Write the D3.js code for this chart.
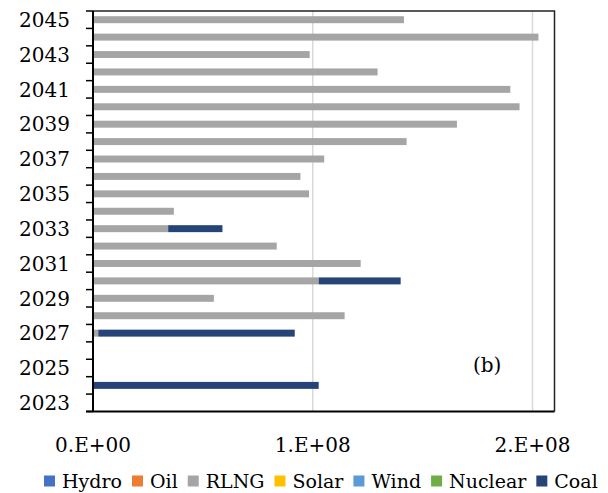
<!DOCTYPE html>
<html>
<head>
<meta charset="utf-8">
<title>generation by fuel</title>
<style>
  body { margin: 0; background: #fff; }
  svg text { font-family: "DejaVu Serif", serif; fill: #000; }
</style>
</head>
<body>
<script src="https://cdn.jsdelivr.net/npm/d3@7/dist/d3.min.js"></script>
<script>
var width = 608, height = 493;

// data
var years = d3.range(2023, 2046);
var seriesNames = ["Hydro", "Oil", "RLNG", "Solar", "Wind", "Nuclear", "Coal"];
var colors = ["#4472C4", "#ED7D31", "#A5A5A5", "#FFC000", "#5B9BD5", "#70AD47", "#264478"];
var hydro   = [0,0,0,0,0,0,0,0,0,0,0,0,0,0,0,0,0,0,0,0,0,0,0];
var oil     = [0,0,0,0,0,0,0,0,0,0,0,0,0,0,0,0,0,0,0,0,0,0,0];
var rlng    = [0, 0, 0, 0, 0.024e8, 1.145e8, 0.55e8, 1.027e8, 1.218e8, 0.836e8, 0.342e8, 0.368e8,
               0.983e8, 0.944e8, 1.052e8, 1.427e8, 1.656e8, 1.941e8, 1.899e8, 1.295e8, 0.986e8, 2.027e8, 1.415e8];
var solar   = [0,0,0,0,0,0,0,0,0,0,0,0,0,0,0,0,0,0,0,0,0,0,0];
var wind    = [0,0,0,0,0,0,0,0,0,0,0,0,0,0,0,0,0,0,0,0,0,0,0];
var nuclear = [0,0,0,0,0,0,0,0,0,0,0,0,0,0,0,0,0,0,0,0,0,0,0];
var coal    = [0, 1.027e8, 0, 0, 0.894e8, 0, 0, 0.373e8, 0, 0, 0.247e8, 0,
               0, 0, 0, 0, 0, 0, 0, 0, 0, 0, 0];
var xTicks = [0, 1e8, 2e8];
var xTickLabels = ["0.E+00", "1.E+08", "2.E+08"];

var table = years.map(function(y, i) {
  return {year: y, Hydro: hydro[i], Oil: oil[i], RLNG: rlng[i], Solar: solar[i],
          Wind: wind[i], Nuclear: nuclear[i], Coal: coal[i]};
});

var plot = {left: 93, right: 554.5, top: 11, bottom: 411.5};

var svg = d3.select("body").append("svg")
  .attr("width", width).attr("height", height);

var xScale = d3.scaleLinear().domain([0, 2.1e8]).range([plot.left, plot.right]);
var yScale = d3.scaleBand()
  .domain(years.slice().reverse())
  .range([plot.top, plot.bottom])
  .paddingInner(0.6).paddingOuter(0.3);
var step = yScale.step();

// gridlines
svg.append("g").selectAll("line")
  .data(xTicks.slice(1))
  .enter().append("line")
  .attr("x1", function(d){ return xScale(d); })
  .attr("x2", function(d){ return xScale(d); })
  .attr("y1", plot.top).attr("y2", plot.bottom)
  .attr("stroke", "#d9d9d9").attr("stroke-width", 1.5);

// bars
var stack = d3.stack().keys(seriesNames)(table);
svg.append("g").selectAll("g")
  .data(stack)
  .enter().append("g")
  .attr("fill", function(d, i){ return colors[i]; })
  .selectAll("rect")
  .data(function(d){ return d; })
  .enter().append("rect")
  .attr("x", function(d){ return xScale(d[0]); })
  .attr("y", function(d){ return yScale(d.data.year); })
  .attr("width", function(d){ return xScale(d[1]) - xScale(d[0]); })
  .attr("height", yScale.bandwidth());

// frame: top and right
svg.append("path")
  .attr("d", "M" + plot.left + "," + plot.top + "H" + plot.right + "V" + plot.bottom)
  .attr("fill", "none").attr("stroke", "#222").attr("stroke-width", 1.5);

// y axis
var boundaries = years.map(function(y){ return yScale(y) - step * 0.3; }).concat([plot.bottom]);
svg.append("g").selectAll("line")
  .data(boundaries)
  .enter().append("line")
  .attr("x1", 86).attr("x2", plot.left)
  .attr("y1", function(d){ return d; }).attr("y2", function(d){ return d; })
  .attr("stroke", "#000").attr("stroke-width", 1.5);
svg.append("line")
  .attr("x1", plot.left).attr("x2", plot.left)
  .attr("y1", plot.top).attr("y2", plot.bottom)
  .attr("stroke", "#000").attr("stroke-width", 2);
svg.append("line")
  .attr("x1", 86).attr("x2", plot.right)
  .attr("y1", plot.bottom).attr("y2", plot.bottom)
  .attr("stroke", "#000").attr("stroke-width", 2);

svg.append("g").selectAll("text")
  .data(years.filter(function(y){ return y % 2 === 1; }))
  .enter().append("text")
  .attr("x", 70)
  .attr("y", function(d){ return yScale(d) + yScale.bandwidth() / 2; })
  .attr("dy", "0.36em")
  .attr("text-anchor", "end")
  .attr("font-size", 20)
  .text(function(d){ return d; });

// x labels
svg.append("g").selectAll("text")
  .data(xTicks)
  .enter().append("text")
  .attr("x", function(d){ return xScale(d); })
  .attr("y", 444.5)
  .attr("dy", "0.36em")
  .attr("text-anchor", "middle")
  .attr("font-size", 20)
  .text(function(d, i){ return xTickLabels[i]; });

// label (b)
svg.append("text").attr("x", 473).attr("y", 365).attr("dy", "0.36em")
  .attr("font-size", 20).text("(b)");

// legend, laid out from measured text widths
var legend = svg.append("g").selectAll("g")
  .data(seriesNames)
  .enter().append("g");
legend.append("rect").attr("x", 0).attr("y", -5.5).attr("width", 11).attr("height", 11)
  .attr("fill", function(d, i){ return colors[i]; });
legend.append("text").attr("x", 18).attr("dy", "0.36em").attr("font-size", 19)
  .text(function(d){ return d; });
var lx = 44;
legend.each(function() {
  var g = d3.select(this);
  g.attr("transform", "translate(" + lx + ",481)");
  lx += 18 + g.select("text").node().getComputedTextLength() + 10;
});
</script>
</body>
</html>
